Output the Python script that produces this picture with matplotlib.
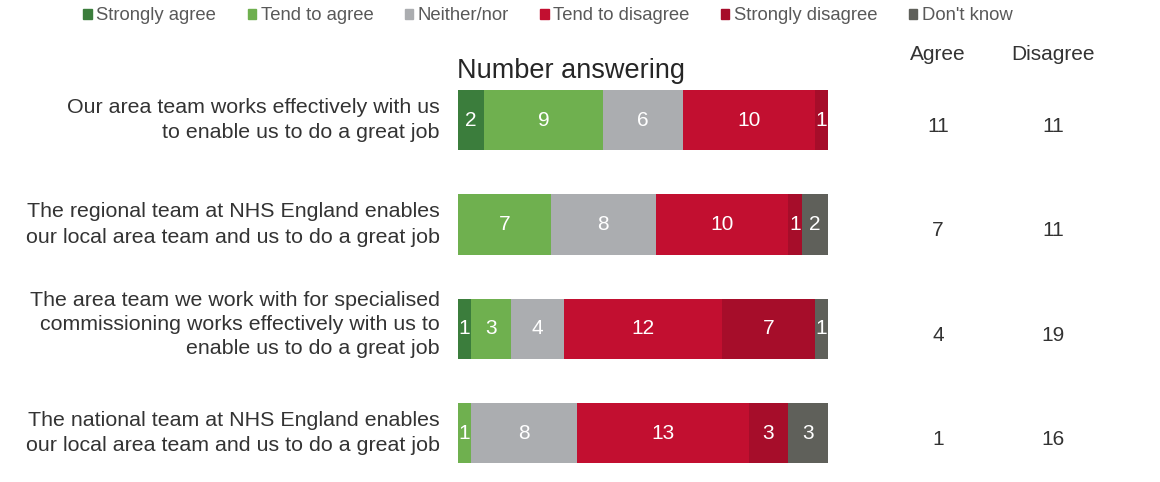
import matplotlib.pyplot as plt
import matplotlib.transforms as mtransforms
from matplotlib.patches import Patch

plt.rcParams['font.family'] = ['Liberation Sans', 'DejaVu Sans']

# data
questions = [
    "Our area team works effectively with us\nto enable us to do a great job",
    "The regional team at NHS England enables\nour local area team and us to do a great job",
    "The area team we work with for specialised\ncommissioning works effectively with us to\nenable us to do a great job",
    "The national team at NHS England enables\nour local area team and us to do a great job",
]
categories = ["Strongly agree", "Tend to agree", "Neither/nor",
              "Tend to disagree", "Strongly disagree", "Don't know"]
strongly_agree = [2, 0, 1, 0]
tend_agree = [9, 7, 3, 1]
neither = [6, 8, 4, 8]
tend_disagree = [10, 10, 12, 13]
strongly_disagree = [1, 1, 7, 3]
dont_know = [0, 2, 1, 3]

series = [strongly_agree, tend_agree, neither, tend_disagree, strongly_disagree, dont_know]
colors = ["#3b7d3c", "#6fb04f", "#abadb0", "#c20f30", "#a60d2a", "#5f605a"]

agree = [a + b for a, b in zip(strongly_agree, tend_agree)]
disagree = [a + b for a, b in zip(tend_disagree, strongly_disagree)]

fig = plt.figure(figsize=(11.6, 4.82), dpi=100)
ax = fig.add_axes([458 / 1160, 0, 370 / 1160, 1 - 68 / 482])

y = list(range(len(questions)))
left = [0] * len(questions)
for vals, col in zip(series, colors):
    ax.barh(y, vals, left=left, color=col, height=0.58)
    for i, v in enumerate(vals):
        if v > 0:
            ax.text(left[i] + v / 2, i, str(v), ha="center", va="center",
                    color="white", fontsize=15)
    left = [l + v for l, v in zip(left, vals)]

ax.set_xlim(0, 28)
ax.set_ylim(3.468, -0.5)
ax.set_yticks([])
ax.set_xticks([])
for s in ax.spines.values():
    s.set_visible(False)

# question labels, left of bars
trans = mtransforms.blended_transform_factory(fig.transFigure, ax.transData)
for i, q in enumerate(questions):
    three = q.count("\n") == 2
    ax.text(440 / 1160, i - (0.04 if three else 0.0), q, transform=trans,
            fontsize=15.4, color="#333333", ha="right", va="center",
            multialignment="right", linespacing=1.35 if three else 1.42)

# title above the bars
fig.text(457 / 1160, 1 - 71 / 482, "Number answering", fontsize=19.5,
         color="#262626", ha="left", va="center")

# agree / disagree columns
fig.text(938 / 1160, 1 - 54 / 482, "Agree", fontsize=15, color="#333333",
         ha="center", va="center")
fig.text(1053 / 1160, 1 - 54 / 482, "Disagree", fontsize=15, color="#333333",
         ha="center", va="center")
for i in y:
    ax.text(938 / 1160, i + 0.06, str(agree[i]), transform=trans, fontsize=15,
            color="#333333", ha="center", va="center")
    ax.text(1053 / 1160, i + 0.06, str(disagree[i]), transform=trans, fontsize=15,
            color="#333333", ha="center", va="center")

# legend
handles = [Patch(color=c, label=l) for c, l in zip(colors, categories)]
fig.legend(handles=handles, loc="center", bbox_to_anchor=(548 / 1160, 1 - 16 / 482),
           ncol=6, frameon=False, fontsize=13.3, handlelength=0.45, handleheight=0.45,
           handletextpad=0.25, columnspacing=1.7, labelcolor="#595959")

fig.savefig("out.png", dpi=100)
